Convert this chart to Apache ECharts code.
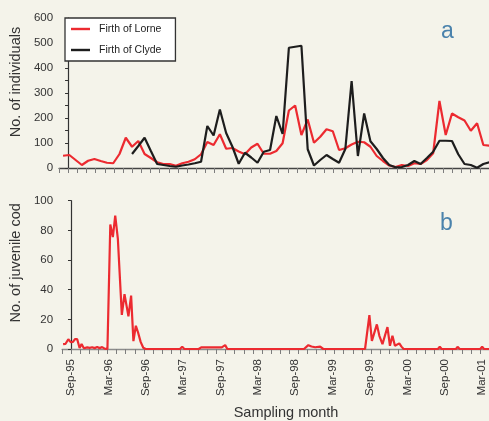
<!DOCTYPE html>
<html>
<head>
<meta charset="utf-8">
<title>Cod abundance, Firth of Lorne and Firth of Clyde</title>
<script src="https://cdn.jsdelivr.net/npm/echarts@6/dist/echarts.min.js"></script>
<style>
  html, body { margin: 0; padding: 0; background: #f4f3ea; }
  #chart { width: 489px; height: 421px; }
</style>
</head>
<body>
<div id="chart"></div>
<script>
// Time is measured in months since September 1995 (Sep-95 = 0).
const tickLabels = ['Sep-95', 'Mar-96', 'Sep-96', 'Mar-97', 'Sep-97', 'Mar-98',
                    'Sep-98', 'Mar-99', 'Sep-99', 'Mar-00', 'Sep-00', 'Mar-01'];
const labelMonths = [0, 6, 12, 18, 24, 30, 36, 42, 48, 54, 60, 66];

// Panel a: monthly trawl totals (surveys in the first week of each month)
const lorneMonths = [-1, 0, 2, 3, 4, 5, 6, 7, 8, 9, 10, 11, 12, 13, 14, 15, 16, 17, 18, 19,
  20, 21, 22, 23, 24, 25, 26, 27, 28, 29, 30, 31, 32, 33, 34, 35, 36, 37, 38, 39,
  40, 41, 42, 43, 44, 45, 46, 47, 48, 49, 50, 51, 52, 53, 54, 55, 56, 57, 58, 59,
  60, 61, 62, 63, 64, 65, 66, 67];
const lorneCounts = [49, 52, 12, 29, 36, 28, 21, 19, 56, 121, 85, 108, 56, 40, 23, 16, 16, 9, 19, 25,
  35, 55, 104, 92, 135, 77, 80, 66, 55, 82, 97, 57, 57, 68, 99, 230, 250, 132, 194, 101,
  125, 155, 147, 72, 79, 94, 105, 103, 85, 48, 28, 10, 4, 12, 8, 19, 16, 32, 59, 268,
  132, 218, 203, 190, 149, 179, 92, 89];

const clydeMonths = [10, 11, 12, 13, 14, 15, 16, 17, 18, 19, 20, 21, 22, 23, 24, 25, 26, 27, 28, 29,
  30, 31, 32, 33, 34, 35, 36, 37, 38, 39, 40, 41, 42, 43, 44, 45, 46, 47, 48, 49,
  50, 51, 52, 53, 54, 55, 56, 57, 58, 59, 60, 61, 62, 63, 64, 65, 66, 67];
const clydeCounts = [56, 88, 121, 68, 16, 12, 8, 5, 10, 14, 19, 25, 168, 130, 234, 140, 85, 17, 61, 42,
  21, 65, 72, 208, 136, 481, 485, 489, 75, 10, 32, 52, 36, 21, 76, 348, 48, 218, 107, 76,
  40, 12, 3, 4, 12, 28, 16, 40, 65, 109, 109, 108, 55, 16, 12, 1, 16, 23];
const SURVEY_OFFSET = 0.2;   // first-week sampling within each month

// Panel b: juvenile cod per sample, Firth of Lorne (fortnightly)
const codMonths = [-1.27, -0.87, -0.43, -0.05, 0.32, 0.64, 1.0, 1.38, 1.7, 2.07, 2.6, 3.0, 3.4, 3.8,
  4.2, 4.6, 5.0, 5.4, 5.85, 6.31, 6.72, 7.1, 7.52, 8.16, 8.59, 9.22, 9.65, 10.02, 10.41,
  10.81, 11.18, 11.6, 12.0, 13.0, 14.0, 15.0, 17.5, 17.85, 18.2, 20.5, 20.9, 24.2, 24.75,
  25.1, 29.2, 29.5, 29.9, 37.4, 37.6, 38.1, 38.6, 39.2, 40.0, 40.5, 47.2, 47.9, 48.3, 49.1,
  49.5, 50.0, 50.8, 51.2, 51.6, 52.0, 52.3, 52.7, 53.05, 53.4, 58.9, 59.2, 59.5, 61.8, 62.05,
  62.4, 65.7, 66.0, 66.3, 67.3];
const codCounts = [3.3, 3.5, 6.6, 4.6, 4.8, 6.6, 6.6, 0.7, 3.3, 0.5, 1.1, 0.8, 1.2, 0.6,
  1.3, 0.6, 1.3, 0.2, 0, 84, 75.5, 90, 74.5, 23, 37, 22, 36, 5.3, 15.7,
  10.5, 4.8, 0.8, 0, 0, 0, 0, 0, 1.6, 0, 0, 1.1, 1.1, 2.6,
  0, 0, 1.1, 0, 0, 1.1, 2.6, 1.7, 1.2, 1.6, 0, 0, 22.8, 5.5, 16.6,
  8.9, 3.3, 14.8, 2.2, 8.9, 2.2, 1.6, 3.8, 1.6, 0, 0, 1.5, 0, 0, 1.5,
  0, 0, 1.5, 0, 0];

const X_MIN = -1.43, X_MAX = 67.1;
const MINOR_TICKS = 47;      // evenly spaced tick marks along the time axis
const FONT = '"Liberation Sans", Arial, Helvetica, sans-serif';
const RED = '#ec2a30', BLACK = '#1d1d1d', TEXT = '#333333', PANEL = '#4a82ac';

const pairs = (xs, ys, dx) => xs.map((x, i) => [x + (dx || 0), ys[i]]);

function timeAxis(gi, withLabels) {
  const ax = {
    type: 'value', gridIndex: gi, position: 'bottom', min: X_MIN, max: X_MAX,
    axisLine: { show: true, onZero: false, lineStyle: { color: gi ? '#8c8c8c' : '#444', width: 1.3 } },
    axisTick: { show: false },
    splitLine: { show: false },
    axisLabel: { show: false }
  };
  if (withLabels) {
    ax.axisLabel = {
      show: true, customValues: labelMonths,
      formatter: v => tickLabels[labelMonths.indexOf(Math.round(v))] || '',
      rotate: 90, margin: 10, fontSize: 11.5, color: TEXT, fontFamily: FONT
    };
    ax.name = 'Sampling month';
    ax.nameLocation = 'middle';
    ax.nameGap = 56;
    ax.nameTextStyle = { fontSize: 14.5, color: TEXT, fontFamily: FONT, padding: [0, 0, 0, 21] };
  }
  return ax;
}

function tickAxis(gi) {
  return {
    type: 'value', gridIndex: gi, position: 'bottom', min: 0, max: MINOR_TICKS, interval: 1,
    axisLine: { show: false, onZero: false },
    axisTick: { show: true, length: 5, lineStyle: { color: '#7d7d7d', width: 1 } },
    axisLabel: { show: false },
    splitLine: { show: false }
  };
}

function countAxis(gi, max, interval, labelStep, name, margin, shift) {
  return {
    type: 'value', gridIndex: gi, min: 0, max: max, interval: interval,
    name: name, nameLocation: 'middle', nameGap: 31,
    nameTextStyle: { fontSize: 14.5, color: TEXT, fontFamily: FONT, padding: [0, 0, 0, shift] },
    axisLine: { show: true, lineStyle: { color: '#333', width: 1.2 } },
    axisTick: { show: true, length: 3, lineStyle: { color: '#333', width: 1 } },
    axisLabel: { formatter: v => (v % labelStep === 0 ? String(v) : ''), margin: margin,
                 fontSize: 11.5, color: TEXT, fontFamily: FONT },
    splitLine: { show: false }
  };
}

const chart = echarts.init(document.getElementById('chart'), null, { renderer: 'canvas' });
chart.setOption({
  backgroundColor: '#f4f3ea',
  animation: false,
  textStyle: { fontFamily: FONT },
  title: [
    { text: 'a', left: 441, top: 20, padding: 0, textStyle: { fontSize: 23, fontWeight: 'normal', color: PANEL, fontFamily: FONT } },
    { text: 'b', left: 440, top: 212, padding: 0, textStyle: { fontSize: 23, fontWeight: 'normal', color: PANEL, fontFamily: FONT } }
  ],
  legend: {
    data: ['Firth of Lorne', 'Firth of Clyde'],
    orient: 'vertical', left: 65, top: 18,
    padding: [5, 14, 5, 6], itemGap: 9,
    itemWidth: 19, itemHeight: 2.4, icon: 'rect',
    backgroundColor: '#ffffff', borderColor: '#333', borderWidth: 1.3,
    selectedMode: false,
    textStyle: { fontSize: 10.5, color: '#222', lineHeight: 12, padding: [0, 0, 0, 4], fontFamily: FONT }
  },
  grid: [
    { left: 58, right: 0, top: 18, height: 150 },
    { left: 58, right: 0, top: 200.7, height: 151 }
  ],
  xAxis: [timeAxis(0, false), timeAxis(1, true), tickAxis(0), tickAxis(1)],
  yAxis: [
    countAxis(0, 600, 50, 100, 'No. of individuals', 6, 22),
    countAxis(1, 100, 20, 20, 'No. of juvenile cod', 9, 24)
  ],
  series: [
    {
      name: 'Firth of Lorne', type: 'line', xAxisIndex: 0, yAxisIndex: 0,
      data: pairs(lorneMonths, lorneCounts, SURVEY_OFFSET),
      symbol: 'none', lineStyle: { color: RED, width: 2.2 }, itemStyle: { color: RED }
    },
    {
      name: 'Firth of Clyde', type: 'line', xAxisIndex: 0, yAxisIndex: 0,
      data: pairs(clydeMonths, clydeCounts, SURVEY_OFFSET),
      symbol: 'none', lineStyle: { color: BLACK, width: 2.2 }, itemStyle: { color: BLACK }
    },
    {
      name: 'Juvenile cod', type: 'line', xAxisIndex: 1, yAxisIndex: 1,
      data: pairs(codMonths, codCounts),
      symbol: 'none', lineStyle: { color: RED, width: 2.2 }, itemStyle: { color: RED }
    }
  ]
});
</script>
</body>
</html>
